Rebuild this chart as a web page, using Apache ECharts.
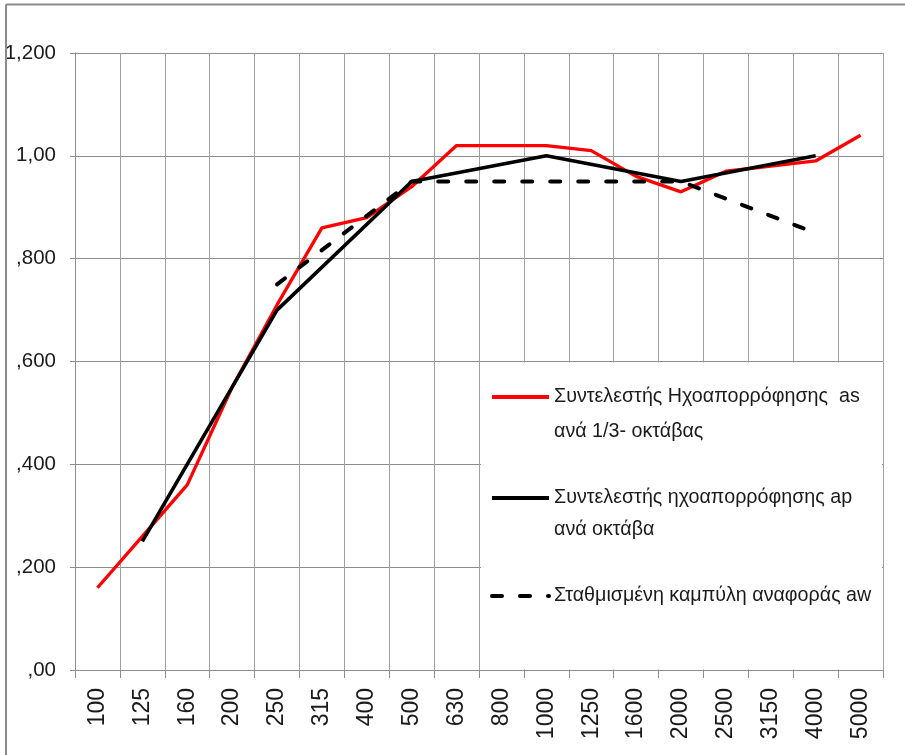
<!DOCTYPE html>
<html>
<head>
<meta charset="utf-8">
<script src="https://cdn.jsdelivr.net/npm/echarts@6/dist/echarts.min.js"></script>
<style>html,body{margin:0;padding:0;background:#fff}#c{width:905px;height:755px}</style>
</head>
<body>
<div id="c"></div>
<script>
var categories = ['100','125','160','200','250','315','400','500','630','800','1000','1250','1600','2000','2500','3150','4000','5000'];
var thirdOctave = [0.16,0.26,0.36,0.55,0.71,0.86,0.88,0.94,1.02,1.02,1.02,1.01,0.96,0.93,0.97,0.98,0.99,1.04];
var octave = [null,0.25,null,null,0.70,null,null,0.95,null,null,1.00,null,null,0.95,null,null,1.00,null];
var reference = [null,null,null,null,0.75,null,null,0.95,null,null,0.95,null,null,0.95,null,null,0.85,null];
var yTickLabels = [',00', ',200', ',400', ',600', ',800', '1,00', '1,200'];
var seriesNames = ['Συντελεστής Ηχοαπορρόφησης  as', 'Συντελεστής ηχοαπορρόφησης ap', 'Σταθμισμένη καμπύλη αναφοράς aw'];
var legendLabels = [' \nΣυντελεστής Ηχοαπορρόφησης  as\nανά 1/3- οκτάβας', ' \nΣυντελεστής ηχοαπορρόφησης ap\nανά οκτάβα', 'Σταθμισμένη καμπύλη αναφοράς aw'];

var FONT = '"Liberation Sans", Arial, sans-serif';
var chart = echarts.init(document.getElementById('c'), null, {renderer: 'canvas'});
function legendFor(i, top, lh) {
  return {
    data: [seriesNames[i]],
    left: 490, top: top, orient: 'vertical', padding: 0,
    itemWidth: 57, itemHeight: 14, z: 10,
    itemStyle: {opacity: 0},
    lineStyle: {width: 4},
    formatter: function () { return legendLabels[i]; },
    textStyle: {fontFamily: FONT, fontSize: 19.7, color: '#1a1a1a', lineHeight: lh}
  };
}
chart.setOption({
  animation: false,
  backgroundColor: '#fff',
  grid: {left: 75, right: 22, top: 53, bottom: 85, containLabel: false},
  legend: [legendFor(0, 397 - 52.5, 35), legendFor(1, 498 - 48, 32), legendFor(2, 596 - 17, 34)],
  graphic: [
    {type: 'rect', shape: {x: 481, y: 362.5, width: 401, height: 307}, style: {fill: '#fff'}, z: 5},
    {type: 'line', shape: {x1: 6, y1: 4.5, x2: 905, y2: 4.5}, style: {stroke: '#8a8a8a', lineWidth: 2}, z: 5},
    {type: 'line', shape: {x1: 6, y1: 4.5, x2: 6, y2: 755}, style: {stroke: '#8a8a8a', lineWidth: 2}, z: 5}
  ],
  xAxis: {
    type: 'category', data: categories, boundaryGap: true,
    axisLine: {lineStyle: {color: '#8c8c8c', width: 1}},
    axisTick: {show: true, interval: 0, length: 8, lineStyle: {color: '#8c8c8c'}},
    splitLine: {show: true, interval: 0, lineStyle: {color: '#a0a0a0', width: 1}},
    axisLabel: {interval: 0, rotate: 90, margin: 18, fontFamily: FONT, fontSize: 23, color: '#1a1a1a'}
  },
  yAxis: {
    type: 'value', min: 0, max: 1.2, interval: 0.2,
    axisLine: {show: true, lineStyle: {color: '#8c8c8c'}},
    axisTick: {show: true, length: 5, lineStyle: {color: '#8c8c8c'}},
    splitLine: {show: true, lineStyle: {color: '#8c8c8c', width: 1}},
    axisLabel: {margin: 19, fontFamily: FONT, fontSize: 20.5, color: '#1a1a1a',
      formatter: function (v) { return yTickLabels[Math.round(v / 0.2)]; }}
  },
  series: [
    {name: seriesNames[0], type: 'line', data: thirdOctave, symbol: 'none', showSymbol: false,
      lineStyle: {color: '#ff0000', width: 3.3}, itemStyle: {color: '#ff0000'}},
    {name: seriesNames[1], type: 'line', data: octave, symbol: 'none', showSymbol: false, connectNulls: true,
      lineStyle: {color: '#000', width: 3.6}, itemStyle: {color: '#000'}},
    {name: seriesNames[2], type: 'line', data: reference, symbol: 'none', showSymbol: false, connectNulls: true,
      lineStyle: {color: '#000', width: 4, type: [10, 18], cap: 'round'}, itemStyle: {color: '#000'}}
  ]
});
</script>
</body>
</html>
